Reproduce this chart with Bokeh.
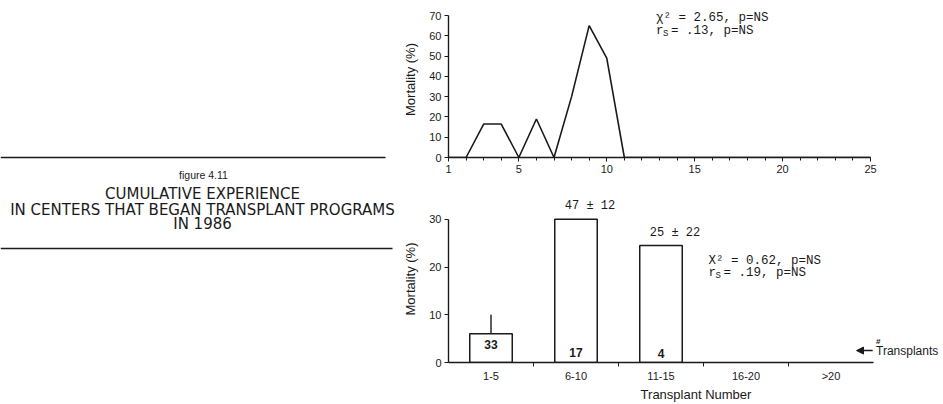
import math
from bokeh.plotting import figure
from bokeh.layouts import row, column
from bokeh.models import Range1d, FixedTicker, Arrow, NormalHead
from bokeh.core.properties import value
from bokeh.embed import file_html
from bokeh.resources import INLINE

# ---------------- data ----------------
transplant_number = list(range(1, 26))
mortality_by_number = [0, 0, 16.5, 16.5, 0, 19, 0, 30, 65, 49, 0,
                       0, 0, 0, 0, 0, 0, 0, 0, 0, 0, 0, 0, 0, 0]
top_x_ticks = [1, 5, 10, 15, 20, 25]
top_y_ticks = [0, 10, 20, 30, 40, 50, 60, 70]

categories = ["1-5", "6-10", "11-15", "16-20", ">20"]
cat_mortality = [6, 30, 24.5, float("nan"), float("nan")]
cat_err_high = [10, float("nan"), float("nan"), float("nan"), float("nan")]
cat_counts = ["33", "17", "4", "", ""]
cat_center_size = ["", "47 ± 12", "25 ± 22", "", ""]
bottom_y_ticks = [0, 10, 20, 30]

top_stats = ["χ² = 2.65, p=NS", "r  = .13, p=NS"]
bottom_stats = ["X² = 0.62, p=NS", "r  = .19, p=NS"]

fig_label = "figure 4.11"
title_lines = ["CUMULATIVE EXPERIENCE",
               "IN CENTERS THAT BEGAN TRANSPLANT PROGRAMS",
               "IN 1986"]

INK = "#1a1a1a"
SANS = "Liberation Sans"
MONO = "Liberation Mono"

FRAME_W = 943 - 448          # plot frames run to the right edge of the window
TOP_PX_PER_UNIT = 422 / 24   # transplant 1..25 spans 422 px
BOT_PX_PER_CAT = 85


def style_axes(p):
    for ax in p.axis:
        ax.axis_line_color = INK
        ax.axis_line_width = 1.4
        ax.major_tick_line_color = INK
        ax.minor_tick_line_color = INK
        ax.major_tick_in = 0
        ax.major_tick_out = 4
        ax.minor_tick_in = 0
        ax.minor_tick_out = 3
        ax.major_label_text_font = SANS
        ax.major_label_text_font_size = "11px"
        ax.major_label_text_color = INK
        ax.axis_label_text_font = SANS
        ax.axis_label_text_font_style = "normal"
        ax.axis_label_text_color = INK
        ax.major_label_standoff = 3


# ---------------- left panel ----------------
left = figure(width=400, height=404, x_range=Range1d(0, 400), y_range=Range1d(404, 0),
              x_axis_location=None, y_axis_location=None, toolbar_location=None,
              output_backend="svg", min_border=0, outline_line_color=None)
left.grid.visible = False
left.segment(x0=[0, 0], y0=[157, 248], x1=[385, 392], y1=[157, 248],
             line_color=INK, line_width=1.4)
left.text(x=[203], y=[174], text=[fig_label], text_font=value(SANS),
          text_font_size="10.5px", text_align="center", text_baseline="middle", text_color=INK)
left.text(x=[202, 202, 202], y=[193, 209, 223], text=title_lines,
          text_font=value("DejaVu Sans"), text_font_size="15px",
          text_align="center", text_baseline="middle", text_color=INK)

# ---------------- top chart ----------------
top = figure(width=543, height=180,
             x_range=Range1d(1, 1 + FRAME_W / TOP_PX_PER_UNIT),
             y_range=Range1d(0, 70 + 14 / (142 / 70)),
             toolbar_location=None, output_backend="svg",
             min_border_left=48, min_border_right=0, min_border_top=1, min_border_bottom=23,
             outline_line_color=None)
top.grid.visible = False
top.line(transplant_number, mortality_by_number, line_color=INK, line_width=1.6)
top.xaxis.ticker = FixedTicker(ticks=top_x_ticks, minor_ticks=transplant_number)
top.xaxis.bounds = (transplant_number[0], transplant_number[-1])
top.yaxis.ticker = FixedTicker(ticks=top_y_ticks)
top.yaxis.bounds = (top_y_ticks[0], top_y_ticks[-1])
top.yaxis.axis_label = "Mortality (%)"
style_axes(top)
top.yaxis.axis_label_text_font_size = "13px"
top.yaxis.axis_label_standoff = 8
top.text(x=[12.8, 12.8], y=[69.0, 62.3], text=top_stats, text_font=value(MONO),
         text_font_size="12.5px", text_baseline="middle", text_color=INK)
top.text(x=[12.8], y=[62.3], text=["S"], x_offset=7, y_offset=3, text_font=value(MONO),
         text_font_size="9px", text_baseline="middle", text_color=INK)

# ---------------- bottom chart ----------------
pos = [i + 0.5 for i in range(len(categories))]
bot = figure(width=543, height=224, x_range=Range1d(0, FRAME_W / BOT_PX_PER_CAT),
             y_range=Range1d(0, 35),
             toolbar_location=None, output_backend="svg",
             min_border_left=48, min_border_right=0, min_border_top=15, min_border_bottom=41,
             outline_line_color=None)
bot.grid.visible = False
bot.vbar(x=pos, top=cat_mortality, width=0.5, fill_color="white", line_color=INK,
         line_width=1.5)
bot.segment(x0=pos, y0=cat_mortality, x1=pos, y1=cat_err_high, line_color=INK, line_width=1.4)
bot.text(x=pos, y=[m + 2.7 for m in cat_mortality], text=cat_center_size, x_offset=14,
         text_font=value(MONO), text_font_size="12px", text_align="center",
         text_baseline="middle", text_color=INK)
count_y = [3.7, 2.1, 1.8, 0, 0]
bot.text(x=pos, y=count_y, text=cat_counts, text_font=value(SANS), text_font_size="12px",
         text_font_style="bold", text_align="center", text_baseline="middle", text_color=INK)

bot.xaxis.ticker = FixedTicker(ticks=pos, minor_ticks=list(range(1, len(categories))))
bot.xaxis.major_label_overrides = {p: c for p, c in zip(pos, categories)}
bot.xaxis.bounds = (0, len(categories))
bot.yaxis.ticker = FixedTicker(ticks=bottom_y_ticks)
bot.yaxis.bounds = (0, 30)
bot.xaxis.axis_label = "Transplant Number"
bot.yaxis.axis_label = "Mortality (%)"
style_axes(bot)
bot.xaxis.major_tick_line_color = None
bot.xaxis.minor_tick_out = 4
bot.xaxis.axis_label_text_font_size = "13px"
bot.xaxis.axis_label_standoff = 2
bot.yaxis.axis_label_text_font_size = "13px"
bot.yaxis.axis_label_standoff = 8

bot.text(x=[3.06, 3.06], y=[21.2, 18.8], text=bottom_stats, text_font=value(MONO),
         text_font_size="12.5px", text_baseline="middle", text_color=INK)
bot.text(x=[3.06], y=[18.8], text=["S"], x_offset=7, y_offset=3, text_font=value(MONO),
         text_font_size="9px", text_baseline="middle", text_color=INK)

bot.text(x=[5.03], y=[2.5], text=["Transplants"], text_font=value(SANS), text_font_size="12px",
         text_baseline="middle", text_color=INK)
bot.text(x=[5.03], y=[4.3], text=["#"], text_font=value(SANS), text_font_size="8px",
         text_font_style="bold", text_baseline="middle", text_color=INK)
bot.add_layout(Arrow(end=NormalHead(size=7, fill_color=INK, line_color=INK),
                     x_start=4.99, y_start=2.5, x_end=4.8, y_end=2.5,
                     line_color=INK, line_width=1.5))

layout = row(left, column(top, bot))
open("out.html", "w").write(file_html(layout, INLINE))
